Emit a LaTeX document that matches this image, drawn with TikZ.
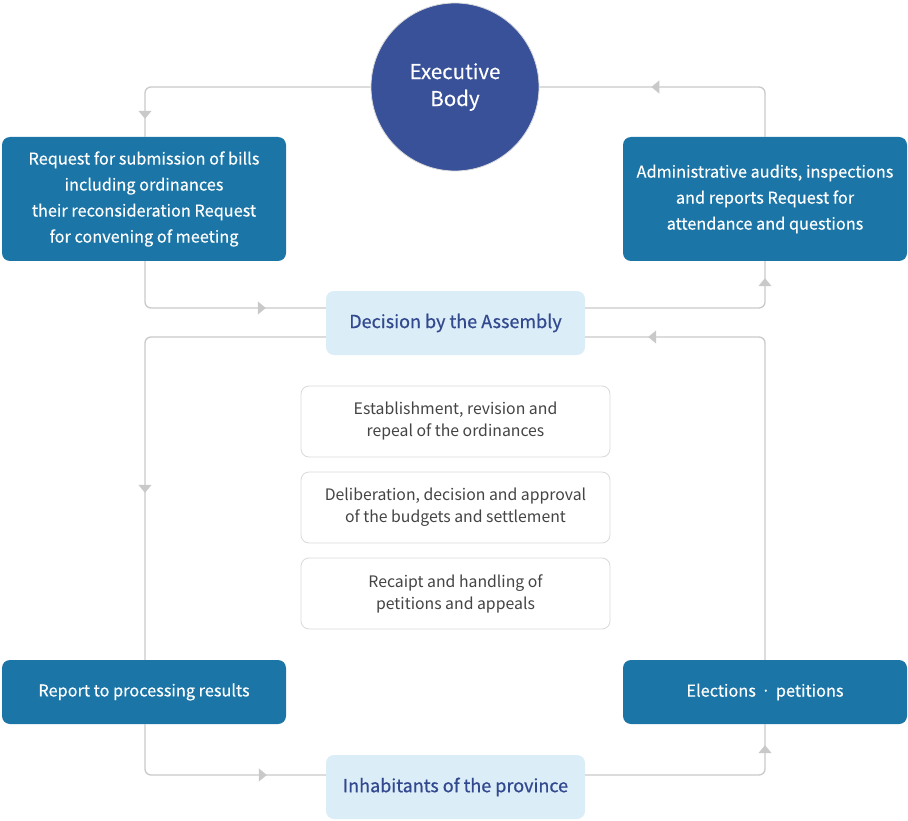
\documentclass[tikz,border=0pt]{standalone}
\usepackage{fontspec}
\setmainfont{Noto Sans CJK KR}
\newfontfamily\medfont[FakeBold=0.6]{Noto Sans CJK KR}
\newfontfamily\semifont[FakeBold=0.3]{Noto Sans CJK KR}
\usetikzlibrary{arrows.meta,decorations.markings}
\definecolor{boxblue}{HTML}{1B75A6}
\definecolor{circblue}{HTML}{385199}
\definecolor{lightbox}{HTML}{DBEDF7}
\definecolor{darktext}{HTML}{33498F}
\definecolor{linegray}{HTML}{C9C9C9}
\definecolor{bordergray}{HTML}{D9D9D9}
\definecolor{graytext}{HTML}{444444}
\tikzset{
  bluebox/.style={draw=none, fill=boxblue, rounded corners=8pt, minimum width=284pt, text=white, align=center,
    font=\semifont\fontsize{16.3}{26}\selectfont, inner sep=0pt},
  lightnode/.style={draw=none, fill=lightbox, rounded corners=8pt, minimum width=259pt, minimum height=64pt,
    text=darktext, font=\medfont\fontsize{18}{22}\selectfont, inner sep=0pt},
  whitebox/.style={draw=bordergray, line width=0.8pt, fill=white, rounded corners=8pt, minimum width=309pt, minimum height=71pt,
    text=graytext, align=center, font=\fontsize{15.8}{22}\selectfont, inner sep=0pt},
  conn/.style={draw=linegray, line width=1.3pt, rounded corners=6pt},
  midarrow/.style={postaction={decorate}, decoration={markings, mark=at position #1 with {\arrow{Triangle[width=13pt,length=8pt]}}}},
}
\begin{document}
\begin{tikzpicture}[x=1pt,y=-1pt]
\useasboundingbox (0,0) rectangle (908,821);
% nodes
\node[circle, draw=bordergray, line width=0.8pt, fill=circblue, minimum size=168pt, text=white, align=center,
  font=\semifont\fontsize{20.5}{27}\selectfont, inner sep=0pt] (exec) at (455,87) {Executive\\Body};
\node[bluebox, minimum height=124pt] (tl) at (144,199) {Request for submission of bills\\including ordinances\\their reconsideration Request\\for convening of meeting};
\node[bluebox, minimum height=124pt] (tr) at (765,199) {Administrative audits, inspections\\and reports Request for\\attendance and questions};
\node[bluebox, minimum height=64pt] (bl) at (144,692) {Report to processing results};
\node[bluebox, minimum height=64pt] (br) at (765,692) {Elections\,\,·\,\,petitions};
\node[lightnode] (dec) at (455.5,323) {Decision by the Assembly};
\node[lightnode] (inh) at (455.5,787) {Inhabitants of the province};
\node[whitebox] (w1) at (455.5,421.5) {Establishment, revision and\\repeal of the ordinances};
\node[whitebox] (w2) at (455.5,507.5) {Deliberation, decision and approval\\of the budgets and settlement};
\node[whitebox] (w3) at (455.5,593.5) {Recaipt and handling of\\petitions and appeals};
% corner coordinates
\coordinate (c1) at (145,87);
\coordinate (c2) at (765,87);
\coordinate (c3) at (145,308);
\coordinate (c4) at (765,308);
\coordinate (c5) at (765,337);
\coordinate (c6) at (145,337);
\coordinate (c7) at (145,775);
\coordinate (c8) at (765,775);
% connectors
\draw[conn, midarrow=-18pt] (exec.west) -- (c1) -- (c1 |- tl.north);
\draw[conn, midarrow=-112pt] (c2 |- tr.north) -- (c2) -- (exec.east);
\draw[conn, midarrow=-60pt] (c3 |- tl.south) -- (c3) -- (c3 -| dec.west);
\draw[conn, midarrow=-17pt] (c4 -| dec.east) -- (c4) -- (c4 |- tr.south);
\draw[conn, midarrow=-63pt] (c5 |- br.north) -- (c5) -- (c5 -| dec.east);
\draw[conn, midarrow=-167pt] (c6 -| dec.west) -- (c6) -- (c6 |- bl.north);
\draw[conn, midarrow=-59pt] (c7 |- bl.south) -- (c7) -- (c7 -| inh.west);
\draw[conn, midarrow=-21pt] (c8 -| inh.east) -- (c8) -- (c8 |- br.south);
\end{tikzpicture}
\end{document}
